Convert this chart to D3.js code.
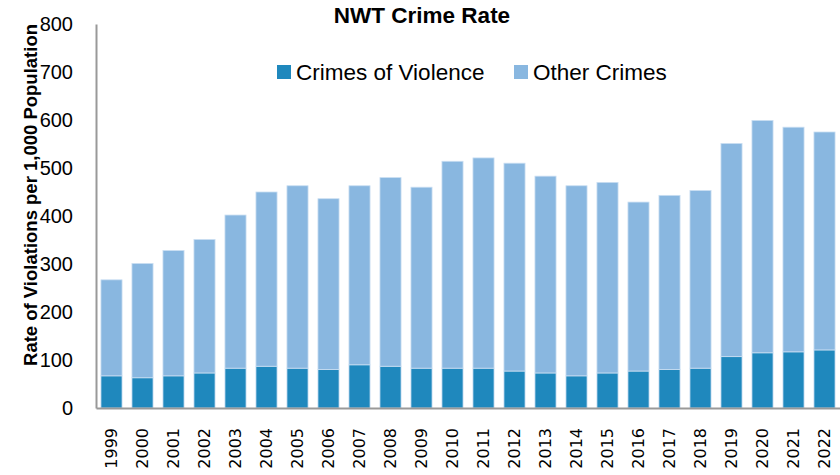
<!DOCTYPE html>
<html>
<head>
<meta charset="utf-8">
<script src="https://cdn.jsdelivr.net/npm/d3@7"></script>
<style>
  body { margin: 0; background: #fff; }
  svg { font-family: "Liberation Sans", Arial, sans-serif; }
</style>
</head>
<body>
<svg id="chart"></svg>
<script>
// NWT crime rate, per 1,000 population
let years = ['1999','2000','2001','2002','2003','2004','2005','2006','2007','2008','2009','2010',
             '2011','2012','2013','2014','2015','2016','2017','2018','2019','2020','2021','2022'];
let violence = [67, 63, 67, 73, 83, 87, 83, 80, 90, 87, 83, 83,
                83, 77, 73, 67, 73, 77, 80, 83, 107, 115, 117, 121];
let totals = [267, 301, 328, 351, 402, 450, 463, 436, 463, 480, 460, 514,
              521, 510, 483, 463, 470, 429, 443, 453, 551, 599, 585, 575];
let yTicks = [0, 100, 200, 300, 400, 500, 600, 700, 800];
let seriesNames = ['Crimes of Violence', 'Other Crimes'];

let colors = { 'Crimes of Violence': '#1f88bd', 'Other Crimes': '#89b7e0' };

let data = years.map((y, i) => ({ name: y, 'Crimes of Violence': violence[i], 'Other Crimes': totals[i] - violence[i] }));

let width = 840, height = 475;
let margin = { top: 24, right: 0, bottom: 67, left: 96 };

let svg = d3.select('#chart').attr('width', width).attr('height', height);

let x = d3.scaleBand()
    .domain(years)
    .range([margin.left, width - margin.right])
    .paddingInner(0.32)
    .paddingOuter(0.16);

let y = d3.scaleLinear()
    .domain([0, 800])
    .range([height - margin.bottom, margin.top]);

// stacked bars
svg.append('g')
    .selectAll('g')
    .data(d3.stack().keys(seriesNames)(data))
    .enter().append('g')
    .attr('fill', d => colors[d.key])
    .selectAll('rect')
    .data(d => d)
    .enter().append('rect')
    .attr('x', d => x(d.data.name))
    .attr('y', d => y(d[1]))
    .attr('height', d => y(d[0]) - y(d[1]))
    .attr('width', x.bandwidth())
    .attr('stroke', '#c9def2')
    .attr('stroke-width', 0.8);

// y axis
let yAxis = svg.append('g')
    .attr('transform', 'translate(' + margin.left + ',0)')
    .call(d3.axisLeft(y).tickValues(yTicks).tickSize(0).tickPadding(23));
yAxis.select('.domain').attr('stroke', '#999').attr('stroke-width', 2);
yAxis.selectAll('text').attr('font-size', 20).attr('fill', '#000');

// x axis
let xAxis = svg.append('g')
    .attr('transform', 'translate(0,' + y(0) + ')')
    .call(d3.axisBottom(x).tickSize(0));
xAxis.select('.domain').attr('stroke', '#999').attr('stroke-width', 2);
xAxis.selectAll('text')
    .attr('font-family', '"DejaVu Sans", sans-serif')
    .attr('font-size', 16)
    .attr('fill', '#000')
    .attr('text-anchor', 'end')
    .attr('transform', 'rotate(-90)')
    .attr('x', -20)
    .attr('y', 0)
    .attr('dy', '0.35em');

// axis title
svg.append('text')
    .attr('transform', 'translate(31,' + ((y(0) + y(800)) / 2 - 21) + ') rotate(-90)')
    .attr('text-anchor', 'middle')
    .attr('dy', '0.35em')
    .attr('font-weight', 'bold')
    .attr('font-size', 18.5)
    .text('Rate of Violations per 1,000 Population');

// title
svg.append('text')
    .attr('x', 422)
    .attr('y', 23)
    .attr('text-anchor', 'middle')
    .attr('font-weight', 'bold')
    .attr('font-size', 22.5)
    .text('NWT Crime Rate');

// legend
let legendX = [277, 514];
let legend = svg.append('g')
    .selectAll('g')
    .data(seriesNames)
    .enter().append('g')
    .attr('transform', (d, i) => 'translate(' + legendX[i] + ',65)');

legend.append('rect')
    .attr('width', 14)
    .attr('height', 14)
    .attr('fill', d => colors[d]);

legend.append('text')
    .attr('x', 19)
    .attr('y', 7)
    .attr('dy', '0.35em')
    .attr('font-size', 22.5)
    .text(d => d);
</script>
</body>
</html>
